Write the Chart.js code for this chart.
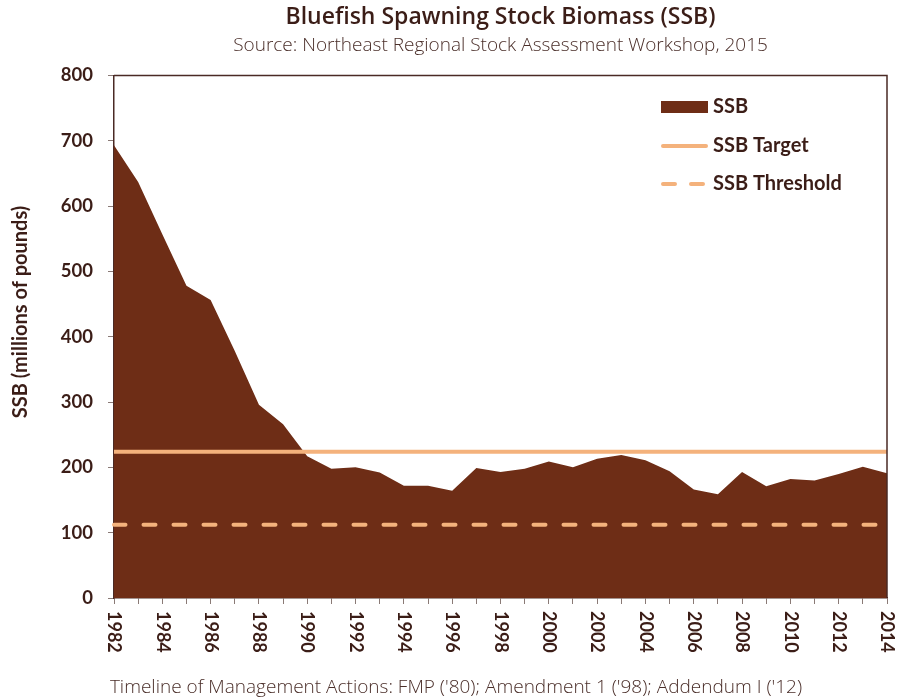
<!DOCTYPE html>
<html>
<head>
<meta charset="utf-8">
<script src="https://cdn.jsdelivr.net/npm/chart.js@4.4.1/dist/chart.umd.min.js"></script>
<style>
  html, body { margin: 0; padding: 0; background: #fff; }
  #wrap { width: 901px; height: 700px; }
</style>
</head>
<body>
<div id="wrap"><canvas id="chart"></canvas></div>
<script>
const years = [];
for (let y = 1982; y <= 2014; y++) years.push(String(y));

// SSB in millions of pounds, 1982-2014
const ssbValues = [
  693, 637, 557, 478, 456, 378, 296, 266, 217, 198,
  200, 192, 172, 172, 164, 199, 193, 198, 209, 200,
  213, 219, 211, 194, 166, 159, 193, 171, 182, 180,
  190, 201, 191
];
const ssbTarget = 224;
const ssbThreshold = 112;

const yTicks = [0, 100, 200, 300, 400, 500, 600, 700, 800];

const brown = '#6e2d16';
const peach = '#f4b27c';
const ink = '#3b1d17';

const targetLine = years.map(() => ssbTarget);
const thresholdLine = years.map(() => ssbThreshold);

// extra text: rotated year labels, y title, legend, footer, frame
const decorations = {
  id: 'decorations',
  afterDraw(chart) {
    const ctx = chart.ctx;
    const xs = chart.scales.x;
    const area = chart.chartArea;
    ctx.save();

    // frame top and right
    ctx.strokeStyle = '#4a2a25';
    ctx.lineWidth = 1.5;
    ctx.beginPath();
    ctx.moveTo(area.left, area.top);
    ctx.lineTo(area.right, area.top);
    ctx.lineTo(area.right, area.bottom);
    ctx.stroke();

    // year labels, reading top to bottom
    ctx.fillStyle = ink;
    ctx.font = 'bold 18px Lato';
    ctx.textAlign = 'left';
    ctx.textBaseline = 'middle';
    years.forEach((yr, i) => {
      if (i % 2) return;
      const px = xs.getPixelForValue(i);
      ctx.save();
      ctx.translate(px, area.bottom + 13);
      ctx.rotate(Math.PI / 2);
      ctx.fillText(yr, 0, 0);
      ctx.restore();
    });

    // y axis title
    ctx.save();
    ctx.translate(21, 312);
    ctx.rotate(-Math.PI / 2);
    ctx.textAlign = 'center';
    ctx.font = 'bold 20px Lato';
    ctx.fillText('SSB (millions of pounds)', 0, 0);
    ctx.restore();

    // legend
    const lx = 661, lw = 47, tx = 713;
    ctx.fillStyle = brown;
    ctx.fillRect(lx, 101, lw, 12);
    ctx.strokeStyle = peach;
    ctx.lineWidth = 4;
    ctx.lineCap = 'round';
    ctx.beginPath();
    ctx.moveTo(lx + 2, 146);
    ctx.lineTo(lx + lw - 2, 146);
    ctx.stroke();
    ctx.setLineDash([12, 16]);
    ctx.beginPath();
    ctx.moveTo(lx + 2, 184);
    ctx.lineTo(lx + lw - 2, 184);
    ctx.stroke();
    ctx.setLineDash([]);
    ctx.fillStyle = ink;
    ctx.font = 'bold 20px Lato';
    ctx.textAlign = 'left';
    ctx.fillText('SSB', tx, 107);
    ctx.fillText('SSB Target', tx, 146);
    ctx.fillText('SSB Threshold', tx, 184);

    // footer
    ctx.font = '300 19px "Open Sans"';
    ctx.textAlign = 'center';
    ctx.fillStyle = '#4a2e29';
    ctx.fillText("Timeline of Management Actions: FMP ('80); Amendment 1 ('98); Addendum I ('12)", 456, 688);

    ctx.restore();
  }
};

new Chart(document.getElementById('chart'), {
  type: 'line',
  data: {
    labels: years,
    datasets: [
      {
        label: 'SSB Target',
        data: targetLine,
        borderColor: peach,
        borderWidth: 4,
        pointRadius: 0,
        fill: false,
        order: 1
      },
      {
        label: 'SSB Threshold',
        data: thresholdLine,
        borderColor: peach,
        borderWidth: 4,
        borderDash: [12, 18],
        borderDashOffset: 0.5,
        borderCapStyle: 'round',
        pointRadius: 0,
        fill: false,
        order: 2
      },
      {
        label: 'SSB',
        data: ssbValues,
        borderWidth: 0,
        borderColor: brown,
        backgroundColor: brown,
        pointRadius: 0,
        tension: 0,
        fill: 'origin',
        order: 3
      }
    ]
  },
  options: {
    responsive: true,
    maintainAspectRatio: false,
    animation: false,
    layout: {
      padding: { left: 0, right: 14, top: 0, bottom: 32 }
    },
    plugins: {
      legend: { display: false },
      tooltip: { enabled: false },
      title: {
        display: true,
        fullSize: false,
        text: 'Bluefish Spawning Stock Biomass (SSB)',
        color: ink,
        font: { family: '"Open Sans"', size: 23, weight: '600', lineHeight: 1.2 },
        padding: { top: 4, bottom: 3 }
      },
      subtitle: {
        display: true,
        fullSize: false,
        text: 'Source: Northeast Regional Stock Assessment Workshop, 2015',
        color: '#4a2e29',
        font: { family: '"Open Sans"', size: 19, weight: '300', lineHeight: 1.2 },
        padding: { top: 0, bottom: 18 }
      }
    },
    scales: {
      x: {
        type: 'category',
        offset: false,
        afterFit: (scale) => { scale.height = 70; },
        ticks: { display: false, autoSkip: false },
        grid: {
          drawOnChartArea: false,
          drawTicks: true,
          tickLength: 6,
          color: '#8a7a76'
        },
        border: { display: true, color: '#4a2a25', width: 1.5 }
      },
      y: {
        min: 0,
        max: 800,
        afterFit: (scale) => { scale.width = 114; },
        afterBuildTicks: (axis) => {
          axis.ticks = yTicks.map(v => ({ value: v }));
        },
        ticks: {
          color: ink,
          padding: 15,
          font: { family: 'Lato', size: 18.5, weight: 'bold' }
        },
        grid: {
          drawOnChartArea: false,
          drawTicks: true,
          tickLength: 6,
          color: '#8a7a76'
        },
        border: { display: true, color: '#4a2a25', width: 1.5 }
      }
    }
  },
  plugins: [decorations]
});
</script>
</body>
</html>
